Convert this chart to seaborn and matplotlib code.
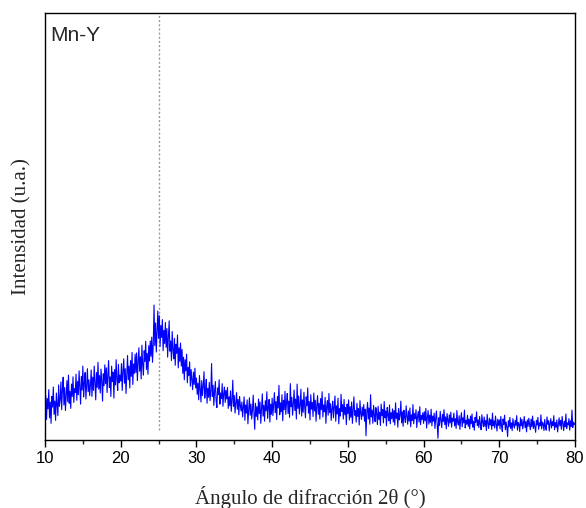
import numpy as np
import pandas as pd
import matplotlib
matplotlib.use("Agg")
import matplotlib.pyplot as plt
from matplotlib.ticker import MultipleLocator
import seaborn as sns

# Diffraction angle grid, 2θ from 10° to 80° in 0.1° steps
two_theta_start = 10.0
two_theta_step = 0.1

# Measured intensity (arbitrary units), one row per 2° of 2θ
intensity = [
    6.1, 10.4, 4.8, 9.7, 7.3, 11.8, 5.2, 8.9, 3.9, 10.2, 7.7, 12.4, 6.0, 9.1, 4.6, 11.0, 8.3, 5.7, 12.9, 7.9,
    9.4, 13.6, 7.1, 11.8, 14.7, 8.2, 12.3, 6.9, 10.5, 13.9, 9.0, 15.2, 8.6, 11.4, 7.4, 13.1, 10.2, 14.8, 8.8, 12.0,
    11.1, 15.4, 9.3, 13.7, 10.6, 16.2, 12.0, 8.4, 14.9, 11.7, 17.3, 10.1, 13.2, 15.8, 9.6, 12.8, 16.7, 11.3, 14.1, 10.4,
    12.8, 16.4, 10.2, 14.7, 11.6, 17.3, 13.5, 9.4, 15.8, 12.3, 18.2, 11.9, 15.1, 11.0, 16.6, 13.8, 9.1, 15.5, 12.7, 17.6,
    13.2, 16.9, 11.1, 15.4, 18.6, 12.3, 14.8, 10.2, 17.3, 13.7, 15.9, 9.8, 16.5, 12.9, 18.8, 14.1, 11.6, 17.7, 13.4, 15.2,
    13.8, 17.9, 11.6, 16.1, 19.0, 13.3, 16.7, 10.9, 15.4, 19.8, 14.1, 17.3, 12.2, 18.6, 14.9, 20.5, 13.0, 17.8, 15.6, 20.1,
    15.8, 20.4, 13.9, 18.3, 21.6, 16.1, 19.5, 14.3, 22.2, 17.6, 15.2, 20.9, 18.4, 23.1, 16.5, 20.3, 15.4, 22.1, 18.5, 23.2,
    19.6, 24.1, 18.2, 22.5, 31.6, 22.1, 27.4, 20.6, 25.3, 30.2, 23.8, 29.1, 21.9, 26.8, 24.0, 28.2, 20.9, 25.7, 22.6, 27.5,
    21.7, 26.1, 19.4, 24.3, 27.9, 20.8, 23.2, 18.6, 25.4, 21.1, 19.0, 23.8, 17.5, 22.4, 20.3, 24.6, 16.9, 21.6, 18.4, 22.7,
    17.3, 21.2, 15.6, 19.4, 14.1, 18.8, 16.2, 20.1, 13.4, 17.0, 15.1, 18.3, 12.6, 16.5, 14.2, 11.8, 15.9, 13.0, 16.8, 12.2,
    14.5, 10.7, 13.3, 9.4, 15.1, 11.8, 8.9, 13.9, 10.4, 12.6, 16.0, 9.8, 11.7, 14.2, 8.6, 12.1, 10.0, 13.5, 9.2, 11.3,
    17.9, 10.2, 12.8, 8.1, 11.5, 13.7, 9.3, 7.6, 12.2, 10.6, 14.1, 8.4, 11.0, 9.7, 13.2, 7.9, 10.8, 12.4, 8.8, 11.6,
    9.6, 12.3, 7.4, 10.1, 8.0, 11.5, 6.7, 9.2, 14.0, 7.9, 10.4, 6.3, 8.7, 11.1, 7.2, 9.5, 5.9, 10.2, 8.1, 6.8,
    8.9, 5.4, 7.6, 10.1, 4.6, 8.2, 6.3, 9.4, 3.8, 7.1, 9.9, 5.8, 8.4, 4.9, 7.0, 10.5, 6.1, 2.5, 8.6, 5.5,
    7.8, 4.7, 9.6, 6.2, 8.9, 3.9, 7.3, 10.8, 5.6, 8.1, 4.4, 9.2, 6.8, 11.3, 5.1, 7.7, 9.5, 4.2, 8.4, 6.0,
    9.8, 5.7, 8.3, 11.1, 6.4, 9.0, 4.8, 10.2, 7.5, 12.8, 5.9, 8.7, 6.6, 10.6, 4.5, 9.3, 7.1, 11.4, 6.0, 8.8,
    10.9, 6.2, 9.1, 5.3, 13.2, 7.8, 10.0, 5.8, 8.5, 11.7, 6.9, 9.6, 4.9, 13.1, 7.4, 10.3, 6.1, 8.2, 11.9, 5.6,
    9.4, 6.5, 11.2, 7.7, 5.2, 10.1, 8.0, 12.2, 6.3, 9.0, 4.7, 10.6, 7.2, 8.8, 5.5, 11.0, 6.8, 9.3, 4.4, 8.1,
    10.4, 6.0, 8.6, 4.9, 9.7, 7.1, 11.3, 5.4, 8.2, 6.6, 10.0, 3.9, 7.8, 9.2, 5.8, 10.9, 6.4, 8.5, 4.6, 7.3,
    9.1, 5.2, 7.9, 10.3, 4.4, 8.0, 6.1, 9.8, 3.8, 7.4, 5.6, 10.7, 6.7, 8.3, 4.9, 9.5, 5.9, 7.6, 3.6, 8.4,
    6.2, 9.4, 4.7, 7.8, 5.3, 8.9, 3.9, 7.1, 10.1, 5.8, 6.9, 4.2, 8.6, 5.5, 7.4, 3.5, 9.2, 6.3, 4.8, 7.7,
    5.6, 8.3, 4.4, 7.2, 1.0, 6.6, 8.8, 4.9, 7.5, 3.7, 10.6, 5.4, 7.0, 3.9, 8.1, 5.8, 4.3, 7.6, 6.1, 3.6,
    7.9, 4.8, 6.5, 3.4, 8.4, 5.7, 7.1, 4.0, 9.0, 5.2, 6.8, 3.3, 7.6, 5.9, 4.5, 8.2, 3.8, 6.4, 5.0, 7.3,
    4.2, 6.9, 3.5, 8.7, 5.1, 6.3, 3.0, 7.4, 4.7, 5.8, 9.1, 4.0, 6.6, 3.2, 7.0, 5.3, 4.1, 8.0, 5.6, 3.7,
    6.8, 4.4, 7.5, 3.1, 5.9, 4.6, 8.3, 3.8, 6.2, 5.0, 7.1, 2.9, 5.5, 6.7, 4.2, 7.8, 3.6, 5.7, 4.8, 6.4,
    3.9, 6.6, 4.5, 7.4, 2.8, 5.3, 6.9, 3.7, 5.8, 4.1, 7.2, 3.3, 5.6, 4.4, 6.3, 2.7, 5.1, 6.8, 3.5, 0.4,
    5.2, 3.4, 6.7, 4.6, 2.9, 6.0, 4.3, 7.1, 3.6, 5.4, 2.6, 6.2, 4.8, 3.2, 5.9, 4.0, 6.5, 3.0, 5.1, 4.4,
    6.3, 3.3, 5.0, 2.7, 6.9, 4.1, 3.5, 5.7, 2.5, 4.8, 6.4, 3.1, 5.2, 4.0, 7.0, 2.8, 4.6, 3.7, 5.8, 3.2,
    4.9, 2.6, 5.6, 3.8, 6.1, 3.0, 4.4, 2.3, 5.3, 4.1, 6.6, 3.4, 4.7, 2.9, 5.5, 3.6, 2.4, 5.9, 4.2, 3.1,
    5.4, 3.2, 4.6, 2.2, 6.0, 3.9, 2.7, 5.1, 3.5, 4.8, 2.5, 6.3, 3.3, 4.5, 2.8, 5.6, 3.7, 2.1, 4.9, 3.4,
    4.7, 2.6, 5.5, 3.3, 2.0, 4.9, 3.6, 5.8, 2.4, 4.2, 3.0, 0.8, 4.5, 3.1, 5.3, 2.7, 4.0, 2.2, 5.0, 3.5,
    2.8, 4.6, 3.4, 5.7, 2.3, 4.1, 3.7, 2.0, 5.2, 3.3, 4.8, 2.6, 3.9, 5.5, 2.9, 4.3, 1.9, 4.7, 3.2, 5.1,
    3.6, 2.4, 4.9, 3.1, 5.6, 2.7, 4.4, 3.0, 1.8, 4.6, 3.5, 5.3, 2.5, 4.0, 3.3, 5.9, 2.6, 4.2, 3.8, 2.2,
    4.8, 3.1, 2.3, 5.4, 3.7, 4.5, 2.1, 3.9, 5.0, 2.8, 4.3, 3.4, 5.7, 2.4, 4.1, 3.0, 4.7, 1.9, 3.6, 5.2,
    3.3, 4.6, 2.5, 5.5, 3.8, 2.2, 4.4, 3.1, 6.1, 2.7, 4.0, 3.5, 5.0, 2.3, 4.5, 3.2, 7.0, 2.9, 4.2, 3.6,
    3.9,
]

two_theta = two_theta_start + two_theta_step * np.arange(len(intensity))
df = pd.DataFrame({"two_theta": two_theta, "intensity": intensity})

sample_label = "Mn-Y"
reference_angle = 25
x_ticks = [10, 20, 30, 40, 50, 60, 70, 80]

sns.set_style("ticks")
plt.rcParams["font.family"] = ["Liberation Sans", "DejaVu Sans"]

fig = plt.figure(figsize=(5.86, 5.08), dpi=100)
ax = fig.add_axes([45 / 586, 1 - 440 / 508, 530 / 586, 427 / 508])

sns.lineplot(data=df, x="two_theta", y="intensity", ax=ax,
             color="#0000ff", linewidth=0.8, estimator=None)

ax.axvline(reference_angle, ymin=0.023, ymax=1.0, color="#999999",
           linestyle=(0, (1.5, 1.5)), linewidth=1.0, zorder=0)

ax.set_xlim(10, 80)
ax.set_ylim(0, 100)
ax.set_xticks(x_ticks)
ax.xaxis.set_minor_locator(MultipleLocator(5))
ax.set_yticks([])
ax.tick_params(axis="x", which="major", direction="out", length=5, width=1,
               labelsize=12, pad=3, colors="black")
ax.tick_params(axis="x", which="minor", direction="out", length=3, width=1)
for side in ["top", "right", "bottom", "left"]:
    ax.spines[side].set_visible(True)
    ax.spines[side].set_color("black")
    ax.spines[side].set_linewidth(1.0)

serif = ["Liberation Serif", "DejaVu Serif"]
ax.set_xlabel("Ángulo de difracción 2θ (°)", family=serif, fontsize=15,
              labelpad=14)
ax.set_ylabel("Intensidad (u.a.)", family=serif, fontsize=15, labelpad=10)

ax.text(0.01, 0.97, sample_label, transform=ax.transAxes, fontsize=15,
        ha="left", va="top")

fig.savefig("out.png", dpi=100)
